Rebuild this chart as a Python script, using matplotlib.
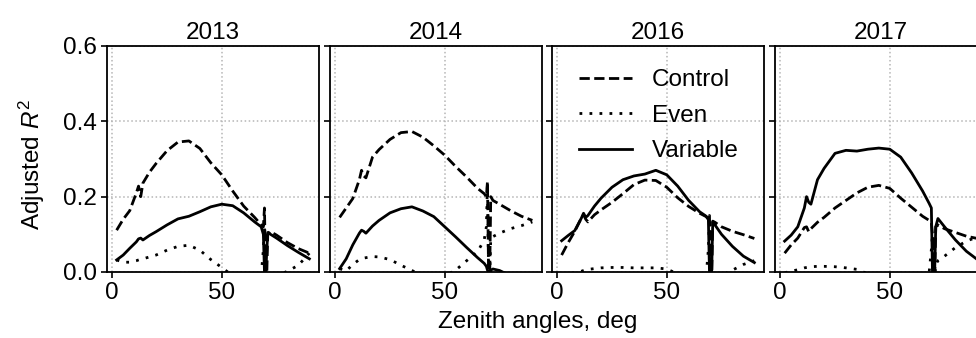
import matplotlib
matplotlib.use("Agg")
import matplotlib.pyplot as plt

plt.rcParams["font.family"] = ["Liberation Sans", "DejaVu Sans"]
plt.rcParams["mathtext.fontset"] = "custom"
plt.rcParams["mathtext.rm"] = "Liberation Sans"
plt.rcParams["mathtext.it"] = "Liberation Sans:italic"

# Zenith angle grid (deg) shared by all series
angles = [2, 5, 8, 11, 12, 13, 14, 17, 20, 25, 30, 35, 40, 45, 50, 55, 60,
          65, 68, 69, 69.5, 70, 70.5, 71, 72, 75, 80, 85, 90]

years = ["2013", "2014", "2016", "2017"]

control_2013 = [0.111, 0.14, 0.163, 0.21, 0.228, 0.20, 0.236, 0.265, 0.288, 0.322,
                0.345, 0.348, 0.328, 0.29, 0.258, 0.215, 0.175, 0.145, 0.125, 0.12,
                0.17, 0.0, -0.02, 0.10, 0.108, 0.098, 0.078, 0.062, 0.05]
even_2013 = [0.032, 0.026, 0.026, 0.03, 0.032, 0.034, 0.035, 0.04, 0.045, 0.058,
             0.068, 0.071, 0.058, 0.033, 0.012, -0.01, -0.02, -0.02, -0.01, 0.06,
             0.12, 0.0, -0.02, -0.02, -0.02, -0.01, 0.002, 0.018, 0.05]
variable_2013 = [0.032, 0.045, 0.063, 0.08, 0.088, 0.09, 0.085, 0.097, 0.107, 0.125,
                 0.141, 0.148, 0.160, 0.173, 0.180, 0.176, 0.157, 0.133, 0.120, 0.10,
                 0.0, -0.02, 0.05, 0.105, 0.101, 0.09, 0.07, 0.052, 0.035]

control_2014 = [0.145, 0.17, 0.195, 0.245, 0.27, 0.255, 0.25, 0.305, 0.325, 0.352,
                0.37, 0.373, 0.358, 0.335, 0.31, 0.28, 0.252, 0.222, 0.208, 0.20,
                0.24, 0.0, -0.02, 0.20, 0.19, 0.18, 0.163, 0.148, 0.137]
even_2014 = [0.009, 0.003, 0.02, 0.033, 0.035, 0.037, 0.038, 0.041, 0.04, 0.033,
             0.018, 0.004, -0.01, -0.015, -0.01, 0.005, 0.03, 0.054, 0.085, 0.12,
             0.24, 0.0, -0.02, 0.09, 0.094, 0.103, 0.115, 0.123, 0.133]
variable_2014 = [0.009, 0.035, 0.072, 0.103, 0.111, 0.108, 0.103, 0.122, 0.137, 0.157,
                 0.168, 0.173, 0.162, 0.147, 0.12, 0.093, 0.065, 0.038, 0.023, 0.015,
                 0.005, 0.0, -0.02, 0.005, 0.008, 0.004, -0.01, -0.02, -0.02]

control_2016 = [0.045, 0.078, 0.108, 0.143, 0.152, 0.14, 0.133, 0.152, 0.165, 0.185,
                0.208, 0.232, 0.244, 0.243, 0.225, 0.197, 0.174, 0.156, 0.147, 0.14,
                0.15, 0.0, -0.02, 0.135, 0.132, 0.12, 0.108, 0.099, 0.089]
even_2016 = [-0.01, -0.005, -0.002, 0.002, 0.004, 0.006, 0.007, 0.009, 0.011, 0.012,
             0.012, 0.011, 0.011, 0.011, 0.008, -0.005, -0.02, -0.02, -0.01, 0.06,
             0.14, 0.0, -0.01, -0.02, -0.02, -0.01, 0.005, 0.02, 0.03]
variable_2016 = [0.083, 0.097, 0.11, 0.143, 0.156, 0.145, 0.150, 0.175, 0.196, 0.225,
                 0.245, 0.255, 0.26, 0.27, 0.258, 0.228, 0.19, 0.16, 0.148, 0.14,
                 0.0, -0.02, 0.0, 0.133, 0.125, 0.1, 0.068, 0.042, 0.025]

control_2017 = [0.05, 0.072, 0.09, 0.118, 0.12, 0.107, 0.115, 0.132, 0.145, 0.17,
                0.19, 0.21, 0.225, 0.23, 0.222, 0.196, 0.172, 0.148, 0.137, 0.13,
                0.10, 0.0, -0.02, 0.12, 0.125, 0.115, 0.105, 0.095, 0.089]
even_2017 = [-0.002, 0.002, 0.006, 0.011, 0.012, 0.013, 0.014, 0.015, 0.015, 0.014,
             0.011, 0.007, -0.005, -0.02, -0.02, -0.02, -0.02, -0.01, 0.0, 0.06,
             0.10, 0.0, -0.02, 0.02, 0.03, 0.042, 0.065, 0.082, 0.093]
variable_2017 = [0.082, 0.098, 0.12, 0.17, 0.2, 0.185, 0.18, 0.245, 0.275, 0.315,
                 0.323, 0.321, 0.326, 0.329, 0.326, 0.305, 0.263, 0.215, 0.182, 0.17,
                 0.0, -0.02, 0.0, 0.12, 0.142, 0.12, 0.085, 0.055, 0.033]

control = [control_2013, control_2014, control_2016, control_2017]
even = [even_2013, even_2014, even_2016, even_2017]
variable = [variable_2013, variable_2014, variable_2016, variable_2017]

W, H = 976, 338
fig = plt.figure(figsize=(W / 100, H / 100), dpi=100)

FS = 17.5
lefts = [107, 330, 552, 775]
ax_w, ax_top, ax_bot = 212, 46, 272
lw = 2.0
styles = {
    "Control": dict(ls=(0, (3.7, 1.6))),
    "Even": dict(ls=(0, (1, 2.6))),
    "Variable": dict(ls="-"),
}

axes = []
for i, yr in enumerate(years):
    ax = fig.add_axes([lefts[i] / W, (H - ax_bot) / H, ax_w / W, (ax_bot - ax_top) / H])
    axes.append(ax)
    ax.plot(angles, control[i], color="black", lw=lw, label="Control", **styles["Control"])
    ax.plot(angles, even[i], color="black", lw=lw, label="Even", **styles["Even"])
    ax.plot(angles, variable[i], color="black", lw=lw, label="Variable", **styles["Variable"])
    ax.set_xlim(-2.4, 94.4)
    ax.set_ylim(0, 0.6)
    ax.set_xticks([0, 50])
    ax.set_yticks([0.0, 0.2, 0.4, 0.6])
    ax.grid(True, color="#b5b5b5", ls=":", lw=1.1)
    ax.set_axisbelow(True)
    ax.tick_params(direction="out", length=4.5, width=1.2, labelsize=FS, pad=3)
    for s in ax.spines.values():
        s.set_linewidth(1.3)
    ax.set_title(yr, fontsize=FS, pad=5)
    if i == 0:
        ax.set_yticklabels(["0.0", "0.2", "0.4", "0.6"])
    else:
        ax.set_yticklabels([])

axes[2].legend(loc="upper right", bbox_to_anchor=(0.925, 0.94), frameon=False,
               fontsize=FS, handlelength=2.2, handletextpad=0.8, labelspacing=0.55,
               borderaxespad=0.0)

fig.text(538 / W, 1 - 322 / H, "Zenith angles, deg", ha="center", va="center", fontsize=FS)
fig.text(32 / W, 1 - 165 / H, "Adjusted $R^2$", ha="center", va="center",
         rotation=90, fontsize=FS)

fig.savefig("out.png", dpi=100)
